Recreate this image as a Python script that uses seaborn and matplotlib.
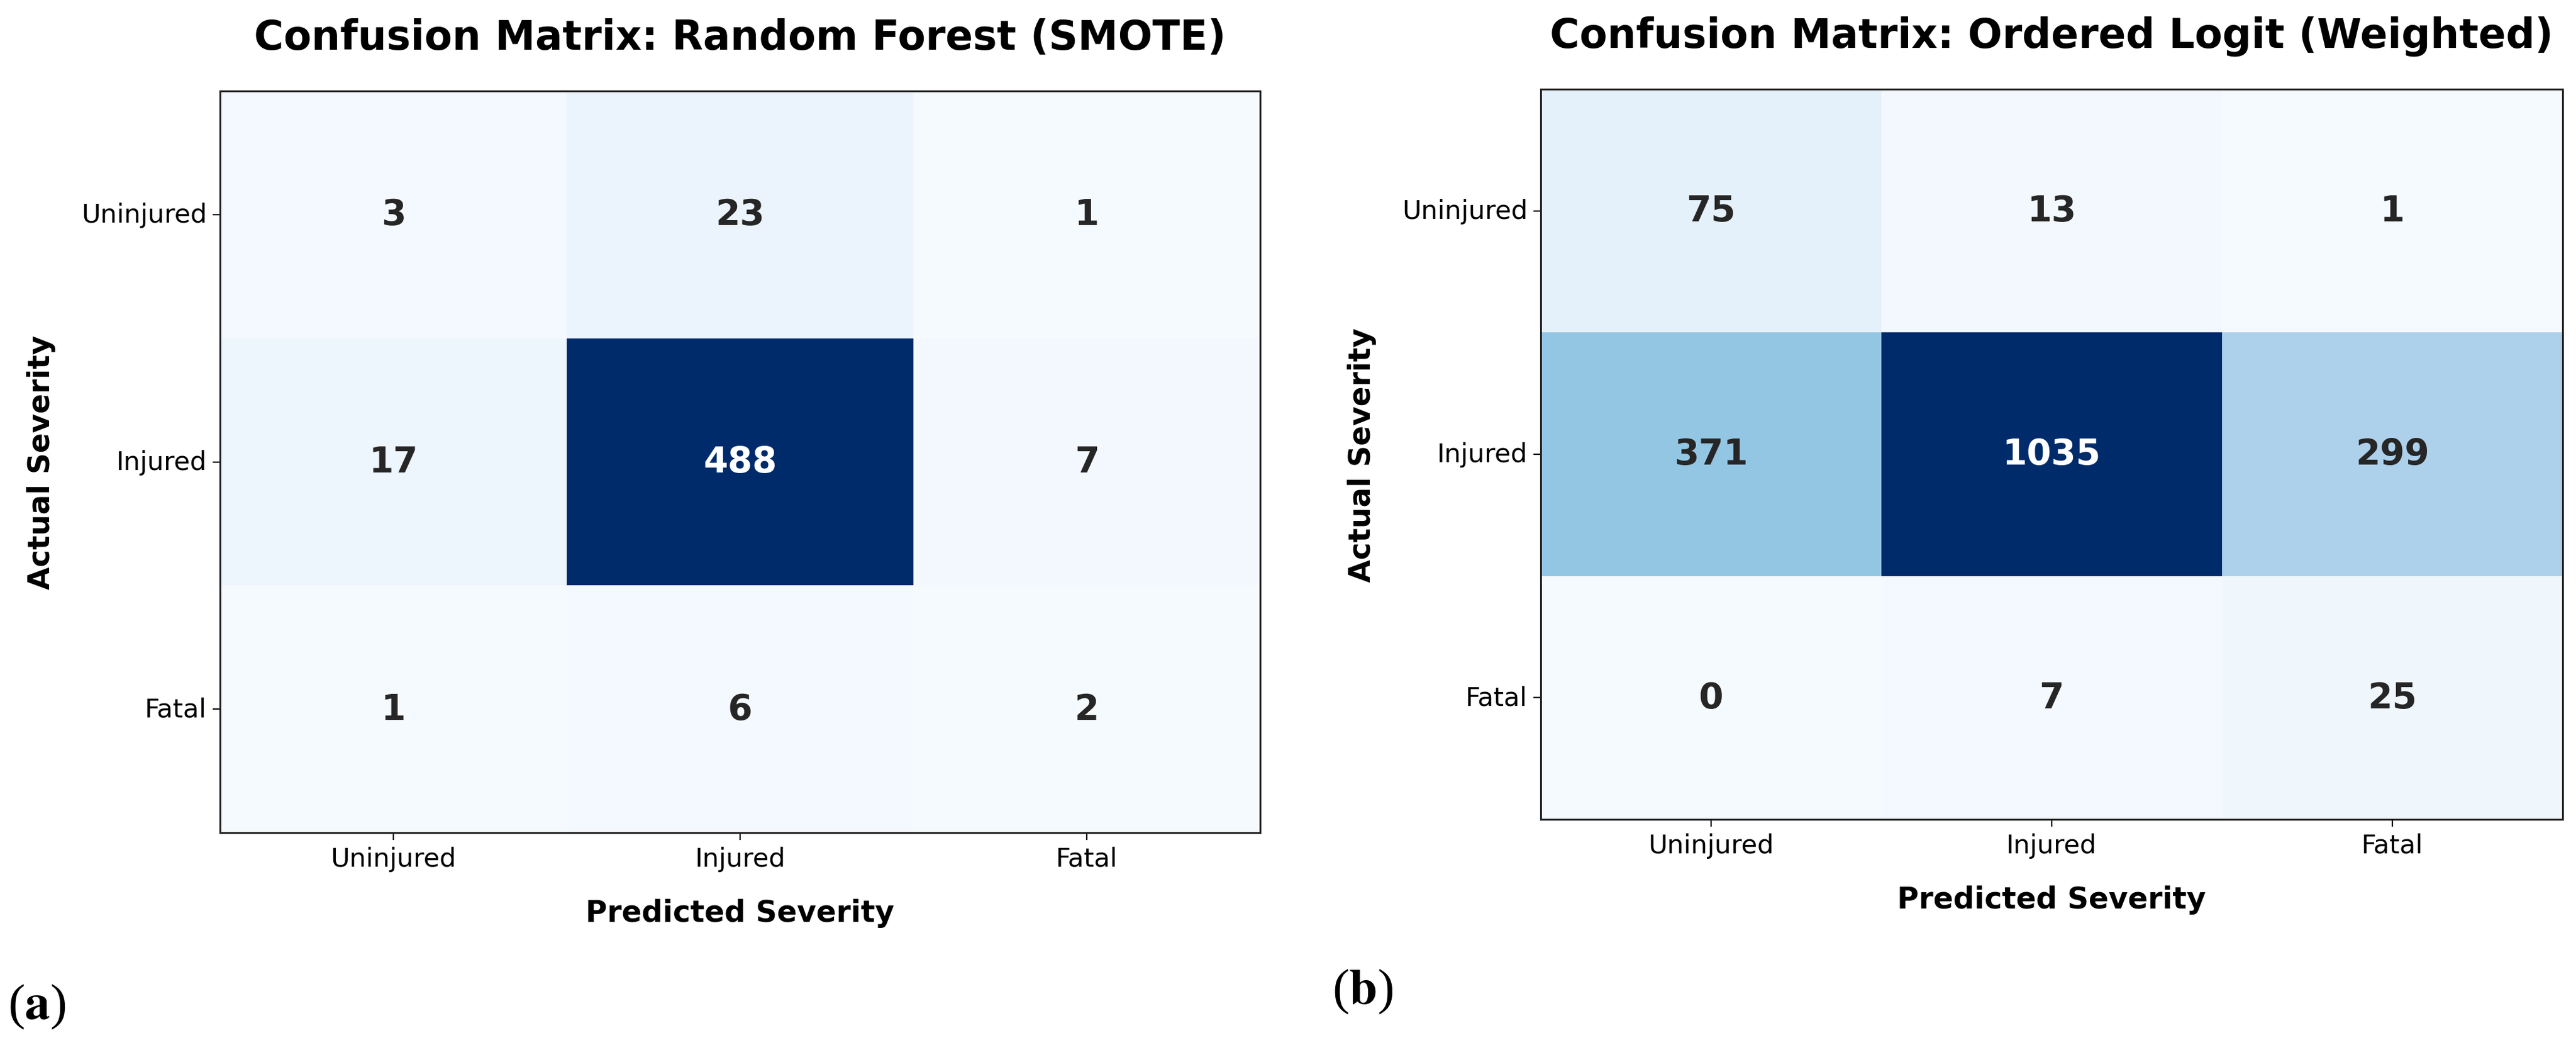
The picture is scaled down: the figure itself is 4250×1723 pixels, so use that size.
import numpy as np
import pandas as pd
import matplotlib
matplotlib.use("Agg")
import matplotlib.pyplot as plt
import matplotlib.colors as mcolors
import seaborn as sns

# =======================
# DADOS
# =======================
classes = ["Uninjured", "Injured", "Fatal"]

cm_rf_smote = [
    [3, 23, 1],
    [17, 488, 7],
    [1, 6, 2],
]

cm_ologit_weighted = [
    [75, 13, 1],
    [371, 1035, 299],
    [0, 7, 25],
]

titulo_rf = "Confusion Matrix: Random Forest (SMOTE)"
titulo_ol = "Confusion Matrix: Ordered Logit (Weighted)"

# =======================
# PALETA: Blues um pouco mais saturado (como na figura exportada)
# =======================
base = plt.get_cmap("Blues")(np.linspace(0, 1, 256))[:, :3]
hsv = mcolors.rgb_to_hsv(base)
hsv[:, 1] = np.clip(hsv[:, 1] * 1.27, 0, 1)
cmap_blues = mcolors.ListedColormap(mcolors.hsv_to_rgb(hsv))

plt.rcParams["mathtext.fontset"] = "stix"


def desenhar_matriz(ax, matriz, titulo):
    df_cm = pd.DataFrame(matriz, index=classes, columns=classes)
    sns.heatmap(
        df_cm,
        ax=ax,
        annot=True,
        fmt="d",
        cmap=cmap_blues,
        cbar=False,
        annot_kws={"size": 21, "weight": "bold"},
    )
    ax.set_title(titulo, fontsize=24, fontweight="bold", pad=25)
    ax.set_xlabel("Predicted Severity", fontsize=17.5, fontweight="bold", labelpad=16)
    ax.set_ylabel("Actual Severity", fontsize=17.5, fontweight="bold", labelpad=15)
    ax.tick_params(labelsize=15.5, length=4.3, width=0.8)
    ax.set_yticklabels(classes, rotation=0)
    ax.set_xticklabels(classes, rotation=0)
    # moldura preta em volta da matriz
    for spine in ax.spines.values():
        spine.set_visible(True)
        spine.set_linewidth(1.1)
        spine.set_edgecolor("#222222")


fig = plt.figure(figsize=(21.25, 8.62), dpi=200)

ax_a = fig.add_axes([0.0854, 0.2030, 0.4038, 0.7094])
ax_b = fig.add_axes([0.5981, 0.2158, 0.3967, 0.6984])

desenhar_matriz(ax_a, cm_rf_smote, titulo_rf)
desenhar_matriz(ax_b, cm_ologit_weighted, titulo_ol)

# legendas (a) e (b): parenteses normais, letra em negrito
fig.text(0.0144, 0.0371, r"($\mathbf{a}$)", family="Liberation Serif", fontsize=30,
         ha="center", va="center")
fig.text(0.529, 0.0516, r"($\mathbf{b}$)", family="Liberation Serif", fontsize=30,
         ha="center", va="center")

fig.savefig("out.png", dpi=200, facecolor="white")
